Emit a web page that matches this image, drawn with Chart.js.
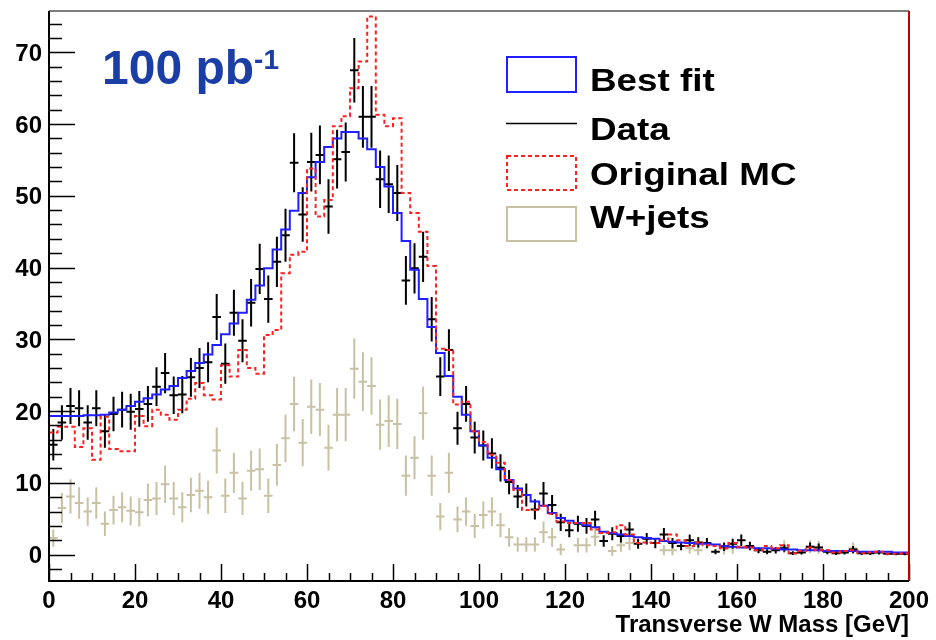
<!DOCTYPE html>
<html>
<head>
<meta charset="utf-8">
<title>Transverse W Mass</title>
<script src="https://cdn.jsdelivr.net/npm/chart.js@4.4.1/dist/chart.umd.min.js"></script>
<style>
  body { margin: 0; background: #fff; }
  #wrap { position: relative; width: 936px; height: 640px; overflow: hidden; }
  #c { position: absolute; left: 0; top: 0; }
  .txt {
    position: absolute;
    font-family: "Liberation Sans", Arial, Helvetica, sans-serif;
    font-weight: bold;
    line-height: 1;
    white-space: nowrap;
  }
  .lumi { left: 102px; top: 44px; font-size: 48px; color: #1b3da6; }
  .lumi span { font-size: 28px; position: relative; top: -15px; }
  .leg { left: 590px; font-size: 32px; color: #000; transform: scaleX(1.15); transform-origin: 0 0; }
</style>
</head>
<body>
<div id="wrap">
  <canvas id="c" width="936" height="640"></canvas>
  <div class="txt lumi">100 pb<span>-1</span></div>
  <div class="txt leg" style="top:64px">Best fit</div>
  <div class="txt leg" style="top:113px">Data</div>
  <div class="txt leg" style="top:158px">Original MC</div>
  <div class="txt leg" style="top:201px">W+jets</div>
</div>
<script>
// --- DATA (100 bins of 2 GeV, 0-200 GeV) ---
const binWidth = 2;
const xTicks = [0, 20, 40, 60, 80, 100, 120, 140, 160, 180, 200];
const yTicks = [0, 10, 20, 30, 40, 50, 60, 70];
const xTitle = "Transverse W Mass [GeV]";

const dataVals = [
  15.3, 18.4, 20.7, 20.4, 18.4, 20.4, 17.2, 19.6, 20.2, 19.9,
  20.3, 21.0, 23.4, 25.3, 22.2, 22.3, 24.7, 26.0, 26.8, 33.1,
  26.6, 33.7, 29.8, 35.1, 39.8, 35.6, 40.8, 44.5, 54.6, 47.4,
  54.7, 55.7, 48.5, 55.1, 56.1, 67.5, 61.0, 61.0, 52.3, 51.6,
  50.4, 38.2, 39.9, 41.5, 32.8, 24.8, 28.5, 17.6, 21.0, 16.3,
  15.2, 14.1, 12.1, 10.1, 8.1, 8.3, 6.3, 8.5, 6.9, 4.5,
  3.4, 4.3, 4.0, 4.9, 1.9, 2.9, 2.6, 3.5, 1.5, 2.2,
  1.6, 2.8, 1.6, 1.2, 2.0, 1.7, 1.6, 0.4, 1.1, 1.5,
  2.0, 1.2, 0.6, 0.4, 0.6, 0.9, 0.2, 0.3, 1.1, 1.0,
  0.4, 0.2, 0.3, 0.7, 0.2, 0.2, 0.3, 0.1, 0.1, 0.1
];
const dataErr = [
  2.2, 2.4, 2.5, 2.5, 2.4, 2.5, 2.3, 2.4, 2.5, 2.5,
  2.5, 2.5, 2.7, 2.8, 2.6, 2.6, 2.7, 2.8, 2.8, 3.2,
  2.8, 3.2, 3.0, 3.3, 3.5, 3.3, 3.5, 3.7, 4.1, 3.8,
  4.1, 4.1, 3.8, 4.1, 4.1, 4.5, 4.3, 4.3, 4.0, 4.0,
  3.9, 3.4, 3.5, 3.5, 3.1, 2.7, 2.9, 2.3, 2.5, 2.2,
  2.1, 2.1, 1.9, 1.7, 1.6, 1.6, 1.4, 1.6, 1.4, 1.2,
  1.0, 1.1, 1.1, 1.2, 0.8, 0.9, 0.9, 1.0, 0.7, 0.8,
  0.7, 0.9, 0.7, 0.6, 0.8, 0.7, 0.7, 0.35, 0.6, 0.7,
  0.8, 0.6, 0.4, 0.35, 0.45, 0.5, 0.25, 0.3, 0.6, 0.55,
  0.35, 0.25, 0.3, 0.5, 0.25, 0.25, 0.3, 0.2, 0.2, 0.2
];
const bestFit = [
  19.3, 19.3, 19.3, 19.3, 19.4, 19.4, 19.5, 19.8, 20.2, 20.7,
  21.3, 21.8, 22.3, 23.0, 23.5, 24.6, 25.6, 26.7, 27.9, 29.2,
  30.7, 32.2, 33.7, 35.5, 37.5, 39.9, 42.5, 45.3, 47.9, 50.4,
  52.6, 54.7, 56.8, 58.0, 58.9, 58.9, 58.0, 56.5, 54.0, 51.3,
  47.6, 43.7, 39.7, 35.6, 31.7, 28.1, 24.9, 22.0, 19.5, 17.2,
  15.2, 13.5, 11.9, 10.4, 9.2, 8.3, 7.4, 6.8, 5.8, 5.1,
  4.7, 4.4, 4.1, 3.8, 3.2, 3.0, 2.8, 2.6, 2.4, 2.3,
  2.2, 1.9, 1.8, 1.7, 1.6, 1.5, 1.5, 1.4, 1.2, 1.1,
  1.0, 1.0, 0.9, 0.9, 0.8, 0.7, 0.7, 0.6, 0.6, 0.6,
  0.5, 0.5, 0.5, 0.5, 0.4, 0.4, 0.4, 0.4, 0.3, 0.3
];
const originalMC = [
  17.0, 17.8, 17.8, 15.0, 17.6, 13.2, 19.2, 14.7, 14.4, 14.4,
  19.3, 17.9, 20.2, 19.5, 18.8, 20.2, 21.7, 23.9, 22.2, 21.6,
  26.4, 24.8, 28.5, 26.0, 25.2, 30.6, 31.3, 39.2, 41.8, 42.2,
  53.8, 47.1, 49.4, 59.7, 61.1, 65.0, 68.7, 75.0, 61.3, 59.7,
  60.8, 50.4, 47.6, 45.0, 40.2, 28.7, 28.5, 20.9, 21.3, 17.2,
  15.7, 13.9, 12.8, 10.4, 9.0, 6.2, 6.2, 6.8, 5.7, 4.6,
  4.4, 4.4, 4.4, 3.5, 3.0, 3.1, 4.1, 2.8, 1.6, 1.7,
  1.6, 2.0, 2.8, 2.0, 1.2, 1.7, 1.3, 1.2, 0.9, 1.6,
  1.1, 1.0, 0.6, 1.2, 0.9, 1.3, 0.2, 0.5, 1.0, 0.6,
  0.6, 0.3, 0.5, 0.6, 0.2, 0.3, 0.4, 0.1, 0.1, 0.2
];
const wjetsVals = [
  2.3, 6.5, 8.1, 7.2, 6.0, 7.2, 4.3, 6.2, 6.6, 6.1,
  5.9, 7.6, 7.8, 9.8, 7.8, 6.6, 8.3, 8.9, 8.0, 14.5,
  8.2, 11.4, 7.8, 11.7, 11.9, 8.2, 12.5, 16.2, 21.0, 15.6,
  20.6, 20.2, 14.9, 19.5, 19.5, 25.9, 24.1, 23.5, 18.1, 18.6,
  18.2, 11.0, 13.5, 19.7, 11.0, 5.3, 11.4, 4.9, 6.0, 4.0,
  5.5, 6.0, 4.1, 2.4, 1.4, 1.4, 1.4, 3.1, 2.4, 0.7,
  null, 1.3, 1.3, 2.5, null, 0.5, 1.3, 1.6, null, null,
  null, 0.6, 0.6, null, 0.9, 0.6, null, null, 0.8, 1.0,
  null, null, null, null, null, 1.1, null, null, 1.1, 1.0,
  null, null, null, 0.9, null, null, null, null, null, null
];
const wjetsErr = [
  1.2, 2.1, 2.4, 2.2, 2.0, 2.2, 1.7, 2.0, 2.1, 2.0,
  2.0, 2.3, 2.3, 2.6, 2.3, 2.1, 2.4, 2.5, 2.3, 3.2,
  2.4, 2.8, 2.3, 2.8, 2.9, 2.4, 2.9, 3.3, 3.8, 3.3,
  3.8, 3.7, 3.2, 3.7, 3.7, 4.2, 4.1, 4.0, 3.5, 3.6,
  3.5, 2.8, 3.0, 3.7, 2.8, 1.9, 2.8, 1.8, 2.0, 1.7,
  1.9, 2.0, 1.7, 1.3, 1.0, 1.0, 1.0, 1.5, 1.3, 0.8,
  0, 1.0, 1.0, 1.3, 0, 0.7, 0.9, 1.0, 0, 0,
  0, 0.7, 0.7, 0, 0.8, 0.7, 0, 0, 0.8, 0.9,
  0, 0, 0, 0, 0, 0.9, 0, 0, 0.9, 0.9,
  0, 0, 0, 0.8, 0, 0, 0, 0, 0, 0
];

const yMin = -3.68, yMax = 75.75;
const FONT = '"Liberation Sans", Arial, Helvetica, sans-serif';
const TAN = '#c8c1a4';

// --- HELPERS ---
// histogram outline: one point per left bin edge, plus the closing edge
const stepPoints = (vals) => {
  const pts = vals.map((v, i) => ({ x: i * binWidth, y: v }));
  pts.push({ x: vals.length * binWidth, y: vals[vals.length - 1] });
  return pts;
};

// error crosses as broken line segments (null breaks the path)
const errorCrosses = (vals, errs) => {
  const pts = [];
  vals.forEach((v, i) => {
    if (v == null) return;
    const lo = i * binWidth, hi = lo + binWidth, c = lo + binWidth / 2;
    pts.push({ x: c, y: v - errs[i] }, { x: c, y: v + errs[i] }, { x: c, y: null });
    pts.push({ x: lo, y: v }, { x: hi, y: v }, { x: hi, y: null });
  });
  return pts;
};

// frame, inward ticks and legend symbols (ROOT style)
const rootFrame = {
  id: 'rootFrame',
  afterDatasetsDraw(chart) {
    const { ctx, chartArea: a, scales: { x, y } } = chart;
    ctx.save();
    ctx.strokeStyle = '#000';
    ctx.lineWidth = 1.5;
    ctx.beginPath();
    for (let v = -2; v <= 74; v += 2) {
      const py = Math.round(y.getPixelForValue(v)) + 0.5;
      const len = v % 10 === 0 ? 26 : 13;
      ctx.moveTo(a.left, py);
      ctx.lineTo(a.left + len, py);
    }
    for (let v = 0; v <= 200; v += 5) {
      const px = Math.round(x.getPixelForValue(v)) + 0.5;
      const len = v % 20 === 0 ? 17 : 8;
      ctx.moveTo(px, a.bottom);
      ctx.lineTo(px, a.bottom - len);
    }
    ctx.stroke();

    // frame
    ctx.lineWidth = 1.5;
    ctx.strokeStyle = '#555';
    ctx.beginPath();
    ctx.moveTo(a.left, a.top); ctx.lineTo(a.right, a.top);
    ctx.stroke();
    ctx.lineWidth = 2;
    ctx.strokeStyle = '#c00000';
    ctx.beginPath();
    ctx.moveTo(a.right, a.top); ctx.lineTo(a.right, a.bottom);
    ctx.stroke();
    ctx.strokeStyle = '#000';
    ctx.beginPath();
    ctx.moveTo(a.left, a.top); ctx.lineTo(a.left, a.bottom); ctx.lineTo(a.right, a.bottom);
    ctx.stroke();

    // legend symbols
    ctx.lineWidth = 2;
    ctx.strokeStyle = '#1f1fff';
    ctx.strokeRect(507, 57, 69, 35);
    ctx.lineWidth = 1.5;
    ctx.strokeStyle = '#000';
    ctx.beginPath(); ctx.moveTo(506, 123.5); ctx.lineTo(577, 123.5); ctx.stroke();
    ctx.lineWidth = 2;
    ctx.strokeStyle = '#ff2020';
    ctx.setLineDash([4, 3]);
    ctx.strokeRect(507, 156, 69, 34);
    ctx.setLineDash([]);
    ctx.strokeStyle = TAN;
    ctx.strokeRect(507, 207, 69, 34);
    ctx.restore();
  }
};

const tickFont = { family: FONT, size: 24, weight: 'bold' };

new Chart(document.getElementById('c'), {
  type: 'line',
  data: {
    datasets: [
      { label: 'Original MC', data: stepPoints(originalMC), stepped: 'before', borderColor: '#ff2020',
        borderWidth: 2, borderDash: [4, 3], order: 1 },
      { label: 'Best fit', data: stepPoints(bestFit), stepped: 'before', borderColor: '#1f1fff',
        borderWidth: 2, order: 2 },
      { label: 'Data', data: errorCrosses(dataVals, dataErr), borderColor: '#000',
        borderWidth: 2, order: 3 },
      { label: 'W+jets', data: errorCrosses(wjetsVals, wjetsErr), borderColor: TAN,
        borderWidth: 2, order: 4 }
    ]
  },
  options: {
    responsive: false,
    animation: false,
    events: [],
    layout: { padding: { top: 11, right: 27, left: 0, bottom: 0 } },
    elements: { point: { radius: 0 }, line: { tension: 0, fill: false } },
    plugins: { legend: { display: false }, tooltip: { enabled: false } },
    scales: {
      x: {
        type: 'linear', min: 0, max: 200,
        grid: { display: false, drawTicks: false },
        border: { display: false },
        afterBuildTicks: (s) => { s.ticks = xTicks.map((v) => ({ value: v })); },
        afterFit: (s) => { s.height = 59; s.paddingLeft = 0; s.paddingRight = 0; },
        ticks: { font: tickFont, color: '#000', padding: 6, maxRotation: 0, autoSkip: false },
        title: { display: true, text: xTitle, align: 'end', color: '#000', padding: 0,
                 font: { family: FONT, size: 24, weight: 'bold' } }
      },
      y: {
        type: 'linear', min: yMin, max: yMax,
        grid: { display: false, drawTicks: false },
        border: { display: false },
        afterBuildTicks: (s) => { s.ticks = yTicks.map((v) => ({ value: v })); },
        afterFit: (s) => { s.width = 49; s.paddingTop = 0; s.paddingBottom = 0; },
        ticks: { font: tickFont, color: '#000', padding: 7, labelOffset: 2 }
      }
    }
  },
  plugins: [rootFrame]
});
</script>
</body>
</html>
